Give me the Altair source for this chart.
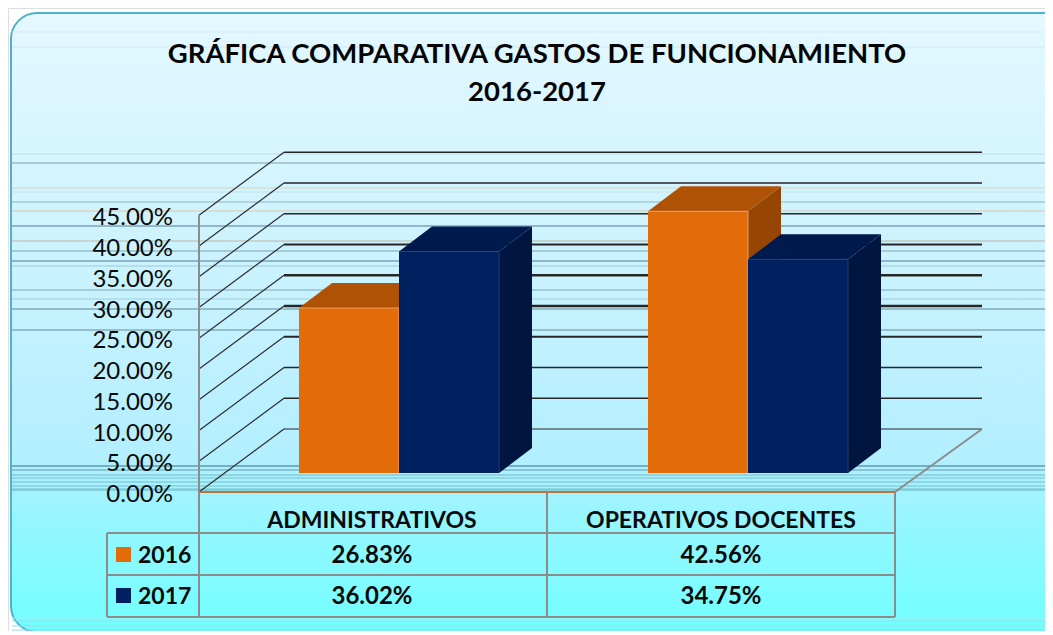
import altair as alt
import pandas as pd

# ---- data
categories = ["ADMINISTRATIVOS", "OPERATIVOS DOCENTES"]
series = ["2016", "2017"]
values_2016 = [26.83, 42.56]
values_2017 = [36.02, 34.75]
ticks = [0, 5, 10, 15, 20, 25, 30, 35, 40, 45]
tick_weights = [1.2, 1.6, 1.6, 1.8, 2.4, 2.4, 2.0, 1.6, 1.6, 1.4]
title_lines = ["GRÁFICA COMPARATIVA GASTOS DE FUNCIONAMIENTO", "2016-2017"]

# ---- faint stray lines of the source picture: (page y, colour)
stray = [(32, "#d6ecf2"), (47, "#d0e6ec"), (154, "#bcdde6"), (163, "#7da0ad"), (188, "#d8d4c0"),
         (192, "#c4e0e6"), (202, "#8fb4c0"), (211, "#d8c8a8"), (226, "#527c9c"), (241, "#bcb8a4"),
         (251, "#7aa4b0"), (261, "#4f7a9a"), (266, "#9cc8d6"), (290, "#7fa4b4"), (299, "#a4ccd8"),
         (309, "#5f8a96"), (330, "#6a8a96"), (466, "#3f6f80"), (470, "#6a9aaa"), (475, "#78b4c0"),
         (478, "#78bcc8"), (482, "#78bcc8"), (486, "#78c0cc"), (489, "#78c0cc"), (490, "#6fb4c0"),
         (618, "#a0f0f4"), (621, "#90e4ea"), (626, "#90e0e8"), (630, "#90dce4")]

# ---- layout, in page pixels
W, H = 1037, 623
K = 6.15               # pixels per percentage point
FLOOR = 492
AX_X, BACK_X, RIGHT_X, FRONT_R = 199, 284, 982, 895
DEPTH_X, DEPTH_Y = 85, 63
BAR_W, BAR_DX, BAR_DY, BAR_BASE = 100, 33, 25, 473
GROUP_X = [299, 648]
FONT = "Lato"
GREY = "#8c8c8c"
COL = {"2016": ("#E36C0A", "#AF5206", "#964504"), "2017": ("#002060", "#001A4D", "#001540")}
EDGE = {"2016": "#EFAE78", "2017": "#2B4474"}


def Y(py):
    return (FLOOR - py) / K


def X(px):
    return px - 8


xs = alt.Scale(domain=[0, W], range=[0, W], nice=False, zero=False)
ys = alt.Scale(domain=[Y(8 + H), Y(8)], range=[H, 0], nice=False, zero=False)
xe = dict(scale=xs, axis=None)
ye = dict(scale=ys, axis=None)
layers = []


def segs(rows, color, width):
    """rows: (x, y, x2, y2) in page pixels -> rule layer"""
    d = pd.DataFrame([dict(x=X(a), y=Y(b), x2=X(c), y2=Y(e)) for a, b, c, e in rows])
    return alt.Chart(d).mark_rule(color=color, strokeWidth=width).encode(
        x=alt.X("x:Q", **xe), y=alt.Y("y:Q", **ye), x2="x2:Q", y2="y2:Q")


def text(rows, size, bold=False, align="center"):
    d = pd.DataFrame([dict(x=X(a), y=Y(b), t=c) for a, b, c in rows])
    return alt.Chart(d).mark_text(font=FONT, fontSize=size, fontWeight="bold" if bold else "normal",
                                  color="#0a0a0a", align=align, baseline="middle").encode(
        x=alt.X("x:Q", **xe), y=alt.Y("y:Q", **ye), text="t:N")


# background panel
bg = pd.DataFrame([dict(x=X(11), x2=X(1075), y=Y(13), y2=Y(632))])
gradient = alt.Gradient(gradient="linear", x1=0, y1=0, x2=0, y2=1, stops=[
    alt.GradientStop(color="#E4F8FF", offset=0),
    alt.GradientStop(color="#C8F2FF", offset=0.45),
    alt.GradientStop(color="#B2EFFF", offset=0.72),
    alt.GradientStop(color="#96F6FF", offset=0.82),
    alt.GradientStop(color="#70FFFF", offset=1)])
layers.append(alt.Chart(bg).mark_rect(color=gradient, stroke="#4FB0CB", strokeWidth=2, cornerRadius=26).encode(
    x=alt.X("x:Q", **xe), x2="x2:Q", y=alt.Y("y:Q", **ye), y2="y2:Q"))

# stray lines
d = pd.DataFrame([dict(x=X(12), x2=X(1060), y=Y(p), c=c) for p, c in stray])
layers.append(alt.Chart(d).mark_rule(strokeWidth=1).encode(
    x=alt.X("x:Q", **xe), x2="x2:Q", y=alt.Y("y:Q", **ye), color=alt.Color("c:N", scale=None)))

# walls: grid lines
for t, w in zip(ticks, tick_weights):
    yf = FLOOR - t * K
    yb = yf - DEPTH_Y
    layers.append(segs([(AX_X, yf, BACK_X, yb)], "#2e2e2e", 1.2))
    layers.append(segs([(BACK_X, yb, RIGHT_X, yb)], "#262626", w))
layers.append(segs([(FRONT_R, FLOOR, RIGHT_X, FLOOR - DEPTH_Y)], GREY, 2))

# table and axis frame
layers.append(segs([(AX_X, FLOOR - 45 * K, AX_X, 617), (547, FLOOR, 547, 617), (FRONT_R, FLOOR, FRONT_R, 617),
                    (107, 533, 107, 617), (107, 533, FRONT_R, 533), (107, 575, FRONT_R, 575), (107, 617, FRONT_R, 617)],
                   GREY, 2))
layers.append(segs([(AX_X, FLOOR, FRONT_R, FLOOR)], "#B8763A", 2))

# bars
base = Y(BAR_BASE)
ddx, ddy = BAR_DX, BAR_DY / K
for gi, gx in enumerate(GROUP_X):
    for si, (name, vals) in enumerate(zip(series, [values_2016, values_2017])):
        top = base + vals[gi]
        x0 = X(gx + si * BAR_W)
        x1 = x0 + BAR_W
        front, roof, side = COL[name]
        d_side = pd.DataFrame([dict(x=x1, y=base, y2=top), dict(x=x1 + ddx, y=base + ddy, y2=top + ddy)])
        layers.append(alt.Chart(d_side).mark_area(color=side, orient="vertical", interpolate="linear").encode(
            x=alt.X("x:Q", **xe), y=alt.Y("y:Q", **ye), y2="y2:Q"))
        d_top = pd.DataFrame([dict(y=top, x=x0, x2=x1), dict(y=top + ddy, x=x0 + ddx, x2=x1 + ddx)])
        layers.append(alt.Chart(d_top).mark_area(color=roof, orient="horizontal", interpolate="linear").encode(
            y=alt.Y("y:Q", **ye), x=alt.X("x:Q", **xe), x2="x2:Q"))
        d_front = pd.DataFrame([dict(x=x0, x2=x1, y=base, y2=top, v=vals[gi], s=name, c=categories[gi])])
        layers.append(alt.Chart(d_front).mark_rect(color=front).encode(
            x=alt.X("x:Q", **xe), x2="x2:Q", y=alt.Y("y:Q", **ye), y2="y2:Q"))
        px0, px1, ptop = gx + si * BAR_W, gx + (si + 1) * BAR_W, FLOOR - top * K
        layers.append(segs([(px0, ptop, px1, ptop), (px1, ptop, px1, BAR_BASE)], EDGE[name], 0.8))

# tick labels
layers.append(text([(173, FLOOR - t * K + 3, f"{t:.2f}%") for t in ticks], 24, align="right"))

# table text
CX = [372, 721]
layers.append(text([(c, 520.5, n) for c, n in zip(CX, categories)], 23, bold=True))
layers.append(text([(c, 556, f"{v:.2f}%") for c, v in zip(CX, values_2016)], 24, bold=True))
layers.append(text([(c, 597, f"{v:.2f}%") for c, v in zip(CX, values_2017)], 24, bold=True))
layers.append(text([(138, 556, series[0]), (138, 597, series[1])], 23, bold=True, align="left"))

# legend keys
d = pd.DataFrame([dict(x=X(123.5), y=Y(554.5), s="2016"), dict(x=X(123.5), y=Y(595.5), s="2017")])
layers.append(alt.Chart(d).mark_square(size=225, opacity=1).encode(
    x=alt.X("x:Q", **xe), y=alt.Y("y:Q", **ye),
    color=alt.Color("s:N", scale=alt.Scale(domain=series, range=[COL["2016"][0], COL["2017"][0]]), legend=None)))

chart = alt.layer(*layers).properties(
    width=W, height=H, padding=0,
    title=alt.TitleParams(text=title_lines, font=FONT, fontSize=27.5, fontWeight="bold", color="#050505",
                          anchor="middle", frame="group", lineHeight=38, dy=102.5, dx=10.5),
    autosize=alt.AutoSizeParams(type="none"),
).configure_view(stroke=None).configure(background="#ffffff")

chart.save("out.html", embed_options={"renderer": "svg", "actions": False})
